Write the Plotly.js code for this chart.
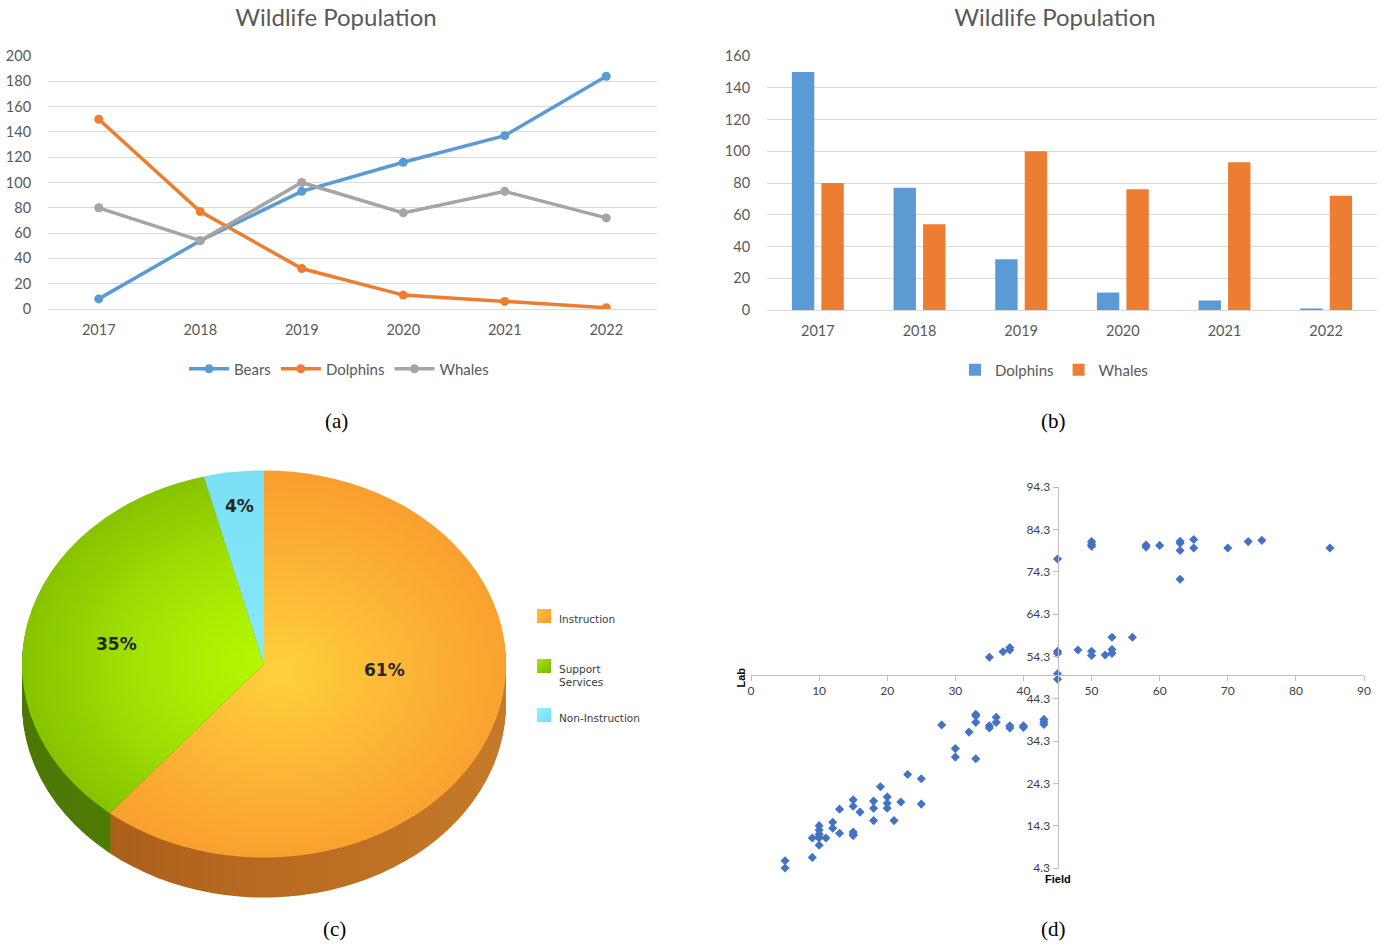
<!DOCTYPE html>
<html><head><meta charset="utf-8">
<script src="https://cdn.plot.ly/plotly-3.0.1.min.js"></script>
<style>
html,body{margin:0;padding:0;background:#fff;}
body{width:1387px;height:946px;position:relative;overflow:hidden;}
.chart{position:absolute;}
.legtxt{position:absolute;font-family:"DejaVu Sans",sans-serif;font-size:10.5px;color:#3a3a3a;line-height:13px;white-space:nowrap;}
.sw{position:absolute;width:14px;height:14px;}
</style></head><body>
<div id="a" class="chart" style="left:0;top:0;width:680px;height:440px"></div>
<div id="b" class="chart" style="left:700px;top:0;width:687px;height:440px"></div>
<div id="d" class="chart" style="left:700px;top:455px;width:687px;height:491px"></div>
<div id="c" class="chart" style="left:0;top:380px;width:680px;height:580px"></div>
<div id="pieLegend"></div>
<script>
// ---------------- data ----------------
const years = ['2017','2018','2019','2020','2021','2022'];
const bears = [8, 54, 93, 116, 137, 184];
const dolphins = [150, 77, 32, 11, 6, 1];
const whales = [80, 54, 100, 76, 93, 72];

const pieLabels = ['Instruction', 'Support<br>Services', 'Non-Instruction'];
const pieValues = [61, 35, 4];

const fieldScores = [45,50,50,50,58,58,60,63,63,63,63,65,65,70,73,75,85,
  35,37,38,38,45,45,45,45,48,50,50,52,53,53,53,56,
  28,30,30,32,33,33,33,33,35,35,36,36,38,38,40,40,43,43,43,
  5,5,9,9,10,10,10,10,10,10,11,12,12,13,13,15,15,15,15,15,16,18,18,18,19,20,20,20,21,22,23,25,25];
const labScores = [77.3,81.4,80.8,80.3,80.6,80.1,80.5,81.5,81.0,79.3,72.5,81.9,79.9,79.9,81.4,81.7,79.9,
  54.1,55.4,56.4,55.8,55.5,55.0,50.2,48.9,55.8,55.5,54.5,54.6,58.8,55.9,55.0,58.8,
  38.1,32.5,30.5,36.4,40.6,40.2,38.7,30.1,37.9,37.4,39.9,38.7,37.9,37.4,37.9,37.5,39.4,38.8,38.2,
  6.0,4.3,11.4,6.8,14.3,13.3,12.3,11.7,11.4,9.7,11.4,15.1,13.7,18.2,12.5,20.4,18.9,12.8,12.3,12.0,17.5,20.1,18.4,15.5,23.5,21.1,19.6,18.4,15.5,19.9,26.4,25.4,19.4];
const labTickStart = 4.3, labTickStep = 10, labMax = 94.3;
const fieldMax = 90, fieldCross = 45, labCross = 50;

// ---------------- styles ----------------
const FONT = 'Lato, "Open Sans", sans-serif';
const GREY = '#595959';
const SERIF = '"Liberation Serif", "Times New Roman", serif';
const CFG = {staticPlot:true, responsive:false};
const BLUE = '#5B9BD5', ORANGE = '#ED7D31', GRAYL = '#A5A5A5';
const capFont = {family:SERIF,size:21,color:'#000'};

// ---------------- (a) line chart ----------------
(function(){
  const W=680,H=440,l=48,r=23,t=56,b=131, pw=W-l-r, ph=H-t-b;
  const mk=(y,name,c)=>({x:years,y:y,name:name,type:'scatter',mode:'lines+markers',
    line:{color:c,width:3.5},marker:{color:c,size:9}});
  Plotly.newPlot('a',[mk(bears,'Bears',BLUE),mk(dolphins,'Dolphins',ORANGE),mk(whales,'Whales',GRAYL)],{
    width:W,height:H,margin:{l:l,r:r,t:t,b:b},
    paper_bgcolor:'rgba(0,0,0,0)',plot_bgcolor:'rgba(0,0,0,0)',
    title:{text:'Wildlife Population',font:{family:FONT,size:24,color:GREY},
      xref:'container',x:336/W,xanchor:'center',yref:'container',y:1-18/H,yanchor:'middle'},
    xaxis:{type:'category',range:[-0.5,5.5],showgrid:false,showline:true,linecolor:'#D9D9D9',linewidth:1,
      ticks:'outside',ticklen:8,tickcolor:'rgba(0,0,0,0)',tickfont:{family:FONT,size:14.5,color:GREY}},
    yaxis:{range:[0,200],dtick:20,gridcolor:'#D9D9D9',zeroline:false,showline:false,
      ticks:'outside',ticklen:13,tickcolor:'rgba(0,0,0,0)',tickfont:{family:FONT,size:14.5,color:GREY}},
    showlegend:true,
    legend:{orientation:'h',x:(339-l)/pw,xanchor:'center',y:(309-369)/ph,yanchor:'middle',
      font:{family:FONT,size:15,color:GREY},itemwidth:40},
    annotations:[{text:'(a)',xref:'paper',yref:'paper',x:(336-l)/pw,y:(309-421)/ph,yanchor:'middle',showarrow:false,
      font:capFont}]
  },CFG);
})();

// ---------------- (b) bar chart ----------------
(function(){
  const W=687,H=440,l=67,r=10,t=56,b=130, pw=W-l-r, ph=H-t-b;
  Plotly.newPlot('b',[
    {x:years,y:dolphins,name:'Dolphins',type:'bar',marker:{color:BLUE},width:0.22,offset:-0.255},
    {x:years,y:whales,name:'Whales',type:'bar',marker:{color:ORANGE},width:0.22,offset:0.035}
  ],{
    width:W,height:H,margin:{l:l,r:r,t:t,b:b},barmode:'overlay',
    paper_bgcolor:'rgba(0,0,0,0)',plot_bgcolor:'rgba(0,0,0,0)',
    title:{text:'Wildlife Population',font:{family:FONT,size:24,color:GREY},
      xref:'container',x:355/W,xanchor:'center',yref:'container',y:1-18/H,yanchor:'middle'},
    xaxis:{type:'category',range:[-0.5,5.5],showgrid:false,showline:true,linecolor:'#D9D9D9',
      ticks:'outside',ticklen:8,tickcolor:'rgba(0,0,0,0)',tickfont:{family:FONT,size:14.5,color:GREY}},
    yaxis:{range:[0,160],dtick:20,gridcolor:'#D9D9D9',zeroline:false,showline:false,
      ticks:'outside',ticklen:13,tickcolor:'rgba(0,0,0,0)',tickfont:{family:FONT,size:14.5,color:GREY}},
    showlegend:true,
    legend:{orientation:'h',x:(354-l)/pw,xanchor:'center',y:(310-370)/ph,yanchor:'middle',
      font:{family:FONT,size:15,color:GREY},itemwidth:30},
    annotations:[{text:'(b)',xref:'paper',yref:'paper',x:(353-l)/pw,y:(310-421)/ph,yanchor:'middle',showarrow:false,
      font:capFont}]
  },CFG);
})();

// ---------------- (d) scatter ----------------
(function(){
  const W=687,H=491,l=51,r=23,t=32,b=78, pw=W-l-r, ph=H-t-b;
  const axisFont={family:'Lato, "Open Sans", sans-serif',size:12,color:'#404040'};
  const yPos=(labCross-labTickStart)/(labMax-labTickStart);
  Plotly.newPlot('d',[{x:fieldScores,y:labScores,type:'scatter',mode:'markers',cliponaxis:false,
    marker:{symbol:'diamond',size:7,color:'#4472C4'}}],{
    width:W,height:H,margin:{l:l,r:r,t:t,b:b},showlegend:false,
    paper_bgcolor:'rgba(0,0,0,0)',plot_bgcolor:'rgba(0,0,0,0)',
    xaxis:{range:[0,fieldMax],dtick:10,tick0:0,anchor:'free',position:yPos,showgrid:false,zeroline:false,
      showline:true,linecolor:'#BFBFBF',ticks:'outside',ticklen:5,tickcolor:'#BFBFBF',tickfont:axisFont},
    yaxis:{range:[labTickStart,labMax],tick0:labTickStart,dtick:labTickStep,tickformat:'.1f',anchor:'free',
      position:fieldCross/fieldMax,showgrid:false,zeroline:false,
      showline:true,linecolor:'#BFBFBF',ticks:'outside',ticklen:5,tickcolor:'#BFBFBF',tickfont:axisFont},
    annotations:[
      {text:'<b>Lab</b>',xref:'paper',yref:'paper',x:0,xshift:-10,y:yPos,yshift:-3,textangle:-90,
        xanchor:'center',yanchor:'middle',showarrow:false,
        font:{family:'"Liberation Sans", Arial, sans-serif',size:11,color:'#000'}},
      {text:'<b>Field</b>',xref:'x',yref:'paper',x:fieldCross,y:0,yshift:-11,xanchor:'center',yanchor:'middle',showarrow:false,
        font:{family:'"Liberation Sans", Arial, sans-serif',size:11,color:'#000'}},
      {text:'(d)',xref:'paper',yref:'paper',x:(353-l)/pw,y:(t+ph-474)/ph,yanchor:'middle',showarrow:false,
        font:capFont}
    ]
  },CFG);
})();

// ---------------- (c) 3D-looking pie ----------------
(function(){
  const PIE={W:680,H:580,cx:264,cy:284,R:242,depth:50,step:2,squash:0.8,divTop:380};
  const labelRadius=[0.50,0.62,0.82];      // label distance from centre (fraction of radius)
  const labelAngleShift=[-16,-3,0];        // degrees, label placement tweak
  const topColors=['#FAA634','#9ED80A','#80E4F8'];
  const sideColors=['#B86A20','#55820A','#4AA8B8'];
  function pieTrace(offset,colors){
    return {type:'pie',values:pieValues,labels:pieLabels,sort:false,direction:'clockwise',rotation:0,
      marker:{colors:colors,line:{width:0}},textinfo:'none',hoverinfo:'skip',showlegend:false,
      domain:{x:[(PIE.cx-PIE.R)/PIE.W,(PIE.cx+PIE.R)/PIE.W],
              y:[1-(PIE.cy+PIE.R+offset)/PIE.H,1-(PIE.cy-PIE.R+offset)/PIE.H]}};
  }
  const data=[];
  for(let d=PIE.depth; d>0; d-=PIE.step) data.push(pieTrace(d,sideColors));
  data.push(pieTrace(0,topColors));

  const total=pieValues.reduce((a,v)=>a+v,0);
  let cum=0;
  const ann=pieValues.map((v,i)=>{
    const frac=v/total, mid=(cum+frac/2)*2*Math.PI + labelAngleShift[i]*Math.PI/180; cum+=frac;
    const f=labelRadius[i];
    const px=PIE.cx+f*PIE.R*Math.sin(mid);
    const py=PIE.cy-PIE.squash*f*PIE.R*Math.cos(mid);
    return {text:'<b>'+Math.round(frac*100)+'%</b>',xref:'paper',yref:'paper',x:px/PIE.W,y:1-py/PIE.H,
      xanchor:'center',yanchor:'middle',showarrow:false,
      font:{family:'"DejaVu Sans", Verdana, sans-serif',size:17,color:'#262626'}};
  });
  ann.push({text:'(c)',xref:'paper',yref:'paper',x:334/PIE.W,y:1-(929-PIE.divTop)/PIE.H,yanchor:'middle',showarrow:false,
    font:capFont});

  Plotly.newPlot('c',data,{width:PIE.W,height:PIE.H,margin:{l:0,r:0,t:0,b:0},showlegend:false,
    paper_bgcolor:'rgba(0,0,0,0)',plot_bgcolor:'rgba(0,0,0,0)',annotations:ann},CFG).then(gd=>{
    const layer=gd.querySelector('.pielayer');
    const cd=gd.calcdata[gd.calcdata.length-1][0];
    const cx=cd.cx!==undefined?cd.cx:PIE.cx, cy=cd.cy!==undefined?cd.cy:PIE.cy, R=cd.r||PIE.R;
    layer.setAttribute('transform','translate(0,'+(cy*(1-PIE.squash))+') scale(1,'+PIE.squash+')');
    const NS='http://www.w3.org/2000/svg';
    const svg=gd.querySelector('svg.main-svg');
    const defs=document.createElementNS(NS,'defs');
    svg.insertBefore(defs,svg.firstChild);
    function grad(type,id,attrs,stops){
      const g=document.createElementNS(NS,type);
      g.setAttribute('id',id); g.setAttribute('gradientUnits','userSpaceOnUse');
      for(const k in attrs) g.setAttribute(k,attrs[k]);
      stops.forEach(s=>{const st=document.createElementNS(NS,'stop');
        st.setAttribute('offset',s[0]); st.setAttribute('stop-color',s[1]); g.appendChild(st);});
      defs.appendChild(g);
    }
    grad('radialGradient','gOr',{cx:cx+15,cy:cy+10,r:R,fx:cx+15,fy:cy+10},[[0,'#FFD23D'],[0.45,'#FDB937'],[1,'#F99F2E']]);
    grad('radialGradient','gGr',{cx:cx,cy:cy,r:R},[[0,'#B6F800'],[0.5,'#A4E405'],[1,'#86C300']]);
    grad('radialGradient','gCy',{cx:cx,cy:cy,r:R},[[0,'#86EAFB'],[1,'#7BE0F5']]);
    grad('linearGradient','sOr',{x1:cx-R,y1:0,x2:cx+R,y2:0},[[0,'#A35A16'],[0.5,'#B86A20'],[1,'#C57A29']]);
    grad('linearGradient','sGr',{x1:cx-R,y1:0,x2:cx+R,y2:0},[[0,'#4B7705'],[1,'#5F8F0E']]);
    const traces=layer.querySelectorAll('.trace');
    traces.forEach((tr,ti)=>{
      const isTop=(ti===traces.length-1);
      tr.querySelectorAll('.slice path.surface').forEach((p,i)=>{
        if(isTop) p.style.fill=['url(#gOr)','url(#gGr)','url(#gCy)'][i];
        else if(i<2) p.style.fill=['url(#sOr)','url(#sGr)'][i];
      });
    });
  });

  // legend
  const leg=document.getElementById('pieLegend');
  const swColors=['linear-gradient(135deg,#FFC23C,#F89A2B)','linear-gradient(135deg,#A8E80A,#78B400)','linear-gradient(135deg,#9AF0FF,#6FDDF3)'];
  pieLabels.forEach((lab,i)=>{
    const top=609+49.5*i;
    const s=document.createElement('div'); s.className='sw';
    s.style.left='537px'; s.style.top=top+'px'; s.style.background=swColors[i];
    leg.appendChild(s);
    const tx=document.createElement('div'); tx.className='legtxt';
    tx.style.left='559px'; tx.style.top=(top+4)+'px'; tx.innerHTML=lab;
    leg.appendChild(tx);
  });
})();
</script>
</body></html>
